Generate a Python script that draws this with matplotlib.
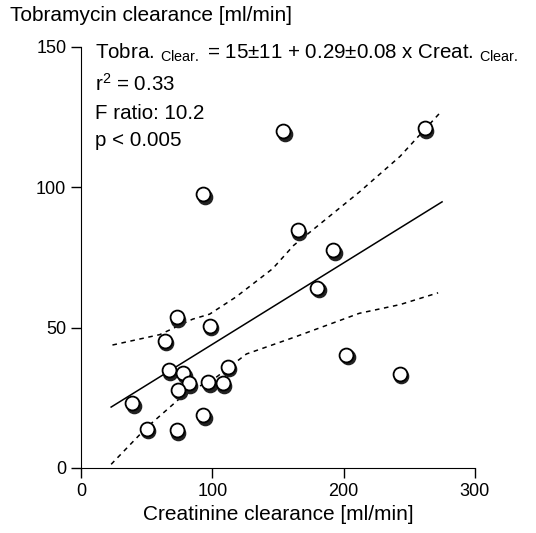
import matplotlib
matplotlib.use('Agg')
import matplotlib.pyplot as plt

plt.rcParams['font.family'] = ['Liberation Sans', 'DejaVu Sans']
plt.rcParams['mathtext.fontset'] = 'custom'
plt.rcParams['mathtext.rm'] = 'Liberation Sans'
plt.rcParams['mathtext.it'] = 'Liberation Sans'

# Creatinine clearance vs tobramycin clearance (ml/min)
creat = [262, 154, 93, 165, 192, 180, 73, 98, 64, 202, 67, 78, 112, 82, 74, 97, 108, 39, 93, 50, 73, 243]
tobra = [121, 120, 97.6, 84.6, 77.5, 64.2, 53.7, 50.7, 45.4, 40.4, 34.9, 33.8, 36.1, 30.1, 27.9, 30.5, 30.1, 23, 18.8, 14, 13.5, 33.5]

# regression line end points
fit_x = [23, 275]
fit_y = [21.7, 94.8]

# confidence band
upper_x = [24, 60, 85, 98, 118, 146, 162, 212, 243, 273]
upper_y = [43.8, 47.5, 53, 54.8, 60.9, 71, 79.3, 98.3, 111, 126.3]
lower_x = [23, 50, 79, 103, 126, 162, 212, 243, 272]
lower_y = [1.3, 14.4, 26.3, 32.3, 40.6, 46.5, 55.1, 58.2, 62.4]

fig = plt.figure(figsize=(5.36, 5.33), dpi=100)
ax = fig.add_axes([0.151, 0.122, 0.735, 0.79])

ax.plot(fit_x, fit_y, color='black', lw=1.1)
ax.plot(upper_x, upper_y, color='black', lw=1.1, dashes=(3, 3))
ax.plot(lower_x, lower_y, color='black', lw=1.1, dashes=(3, 3))

# shadowed open circles
shift_x, shift_y = 1.1, -0.9
ax.scatter([c + shift_x for c in creat], [t + shift_y for t in tobra], s=105,
           color='#222222', zorder=3)
ax.scatter(creat, tobra, s=100, facecolor='white', edgecolor='black', lw=1.3, zorder=4)

ax.set_xlim(0, 300)
ax.set_ylim(0, 150)
ax.set_xticks([0, 100, 200, 300])
ax.set_yticks([0, 50, 100, 150])
ax.spines['top'].set_visible(False)
ax.spines['right'].set_visible(False)
ax.tick_params(labelsize=13, length=7, width=1)
ax.set_xlabel('Creatinine clearance [ml/min]', fontsize=15, labelpad=4)
fig.text(0.018, 0.971, 'Tobramycin clearance [ml/min]', fontsize=15, va='center')

txt = dict(transform=ax.transAxes, fontsize=14.8, va='center')
ax.text(0.036, 0.985, r'Tobra. $_{\mathrm{Clear.}}$ = 15±11 + 0.29±0.08 x Creat. $_{\mathrm{Clear.}}$', **txt)
ax.text(0.036, 0.913, r'r$^{2}$ = 0.33', **txt)
ax.text(0.036, 0.843, 'F ratio: 10.2', **txt)
ax.text(0.036, 0.778, 'p < 0.005', **txt)

fig.savefig('out.png', dpi=100)
plt.close(fig)
